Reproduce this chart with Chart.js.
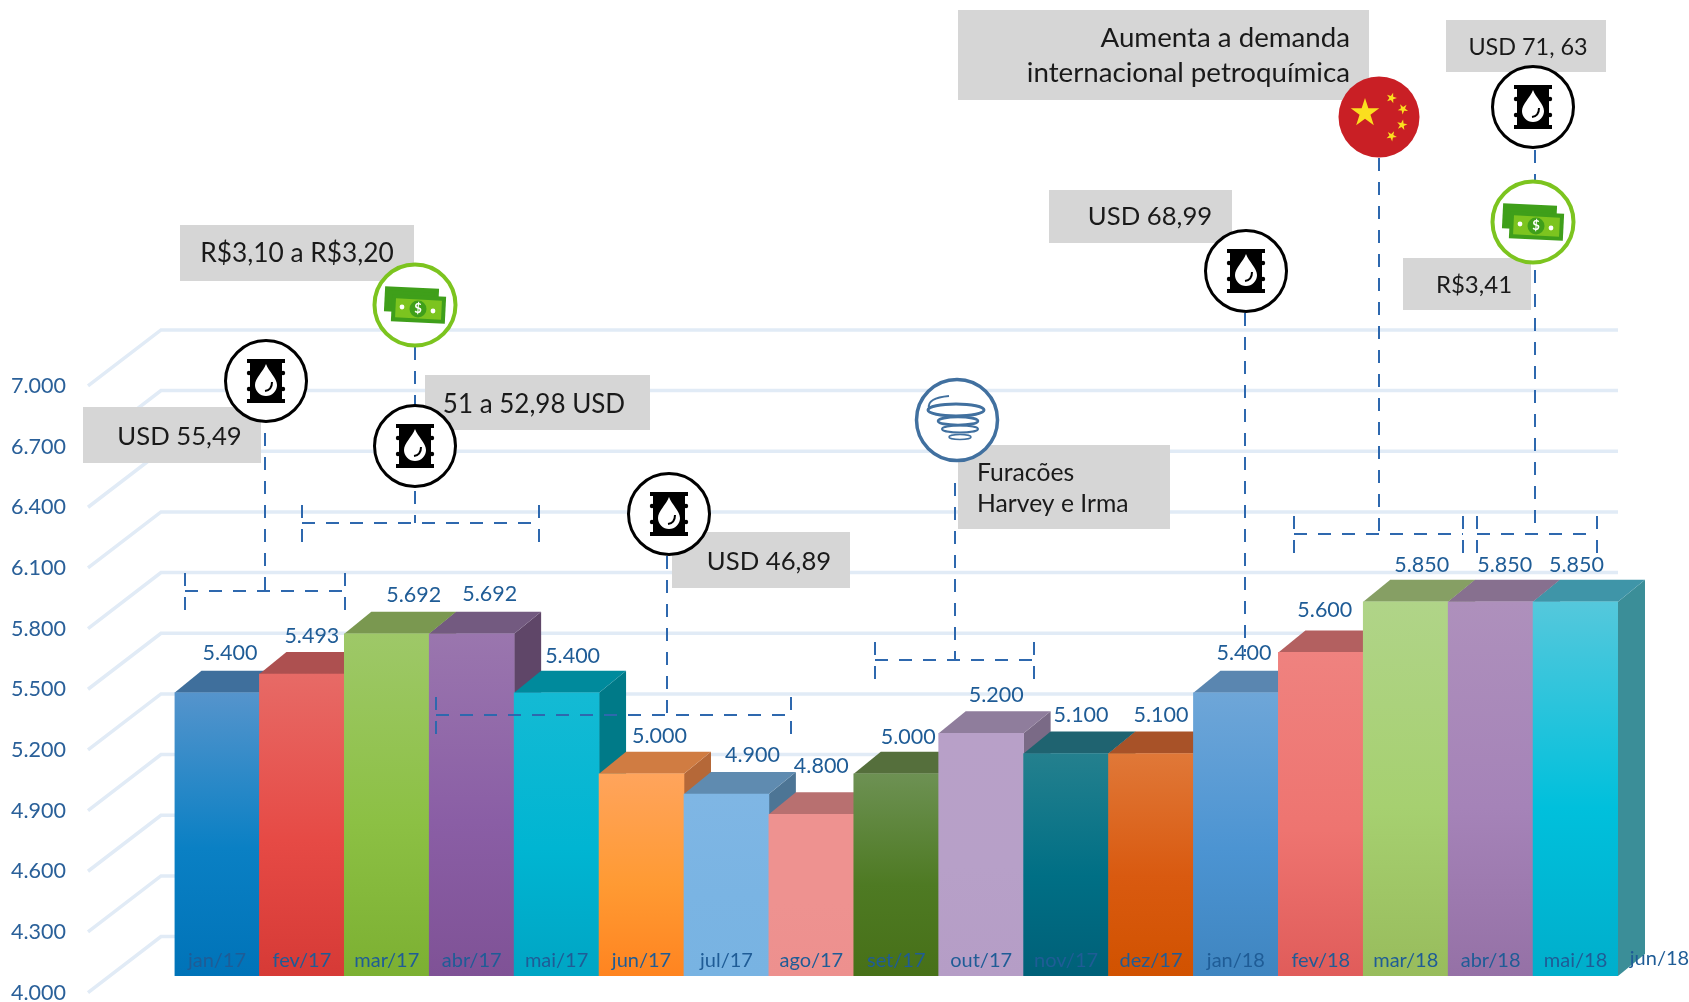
<!DOCTYPE html>
<html>
<head>
<meta charset="utf-8">
<script src="https://cdn.jsdelivr.net/npm/chart.js@4"></script>
<style>
    html, body { margin: 0; padding: 0; background: #fff; overflow: hidden; }
    #wrap { position: relative; width: 1689px; height: 1002px; }
</style>
</head>
<body>
<div id="wrap"><canvas id="precoChart"></canvas></div>
<script>
// Dados
const categories = ['jan/17', 'fev/17', 'mar/17', 'abr/17', 'mai/17', 'jun/17', 'jul/17', 'ago/17', 'set/17',
    'out/17', 'nov/17', 'dez/17', 'jan/18', 'fev/18', 'mar/18', 'abr/18', 'mai/18', 'jun/18'];
const precos = [5400, 5493, 5692, 5692, 5400, 5000, 4900, 4800, 5000, 5200, 5100, 5100, 5400, 5600, 5850, 5850, 5850];
const yTicks = [4000, 4300, 4600, 4900, 5200, 5500, 5800, 6100, 6400, 6700, 7000];

// Cores de cada barra: topo, meio e base da frente, tampa, lateral
const coresFrente = [
    ['#5594cc', '#0a80c4', '#0073b8'], ['#e76a66', '#e64a45', '#d63a36'], ['#9ec868', '#8cc044', '#7cb032'],
    ['#9a76ae', '#8a5ea5', '#7f5296'], ['#14bad4', '#00b5d2', '#00a5c4'], ['#ffa45c', '#ff9a33', '#ff8420'],
    ['#7fb6e4', '#7ab4e3', '#78b3e2'], ['#ee9290', '#ee9290', '#ed908e'], ['#6d9153', '#4e7a23', '#477018'],
    ['#b8a0c8', '#b7a0c8', '#b59dc6'], ['#24808e', '#006f85', '#006078'], ['#e07838', '#d95a10', '#d15200'],
    ['#6ea6d8', '#4c94d2', '#3f85c0'], ['#ef827f', '#ee7470', '#e05c5a'], ['#b0d488', '#a6d070', '#98bc5c'],
    ['#ae90bc', '#a583b8', '#9571a6'], ['#55c8dc', '#00c0dc', '#00aecb']
];
const coresTampa = ['#3f6f9c', '#ad5050', '#7a9850', '#735a80', '#008a9c', '#d07c42', '#5f8bb0', '#b87070', '#556f3c',
    '#8f7d9c', '#1f6370', '#a85228', '#5a86b0', '#b36060', '#869f64', '#87708f', '#3f95a8'];
const coresLateral = ['#35608a', '#8f4040', '#67833f', '#5f4668', '#007a88', '#b56838', '#4d7595', '#9c5c5c', '#47602f',
    '#7a6a86', '#184f5a', '#8e4420', '#4b7296', '#985050', '#728a52', '#725e7a', '#3b8e98'];

// Deslocamento do rotulo de cada barra em relacao ao topo central da frente
const rotuloDx = [13, 10, 27, 18, 16, 18, 26, 10, 12, 15, 15, 10, 8, 4, 16, 14, 1];
const rotuloDy = [-40, -38, -39, -40, -37, -38, -39, -48, -37, -38, -38, -38, -40, -42, -37, -37, -37];

// Profundidade das barras e da parede do fundo
const barraDx = 27, barraDy = 22;
const paredeX = [88, 161], paredeFrenteDy = 16.6, paredeFundoDy = -39.4;

// Anotacoes em pixels da pagina
const caixas = [
    { x: 958, y: 10, w: 411, h: 90 }, { x: 1446, y: 20, w: 160, h: 52 }, { x: 1403, y: 258, w: 128, h: 52 },
    { x: 1049, y: 190, w: 183, h: 53 }, { x: 180, y: 225, w: 234, h: 56 }, { x: 425, y: 375, w: 225, h: 55 },
    { x: 83, y: 407, w: 178, h: 56 }, { x: 672, y: 532, w: 178, h: 56 }, { x: 958, y: 445, w: 212, h: 84 }
];
const textos = [
    { t: 'Aumenta a demanda', x: 1350, y: 38, align: 'right', size: 27.7 },
    { t: 'internacional petroquímica', x: 1350, y: 73, align: 'right', size: 27.7 },
    { t: 'USD 71, 63', x: 1528, y: 47, size: 23.4 }, { t: 'R$3,41', x: 1474, y: 285, size: 24 },
    { t: 'USD 68,99', x: 1150, y: 217, size: 25.7 }, { t: 'R$3,10 a R$3,20', x: 297, y: 254, size: 26.3 },
    { t: '51 a 52,98 USD', x: 534, y: 405, size: 26 }, { t: 'USD 55,49', x: 179.5, y: 437, size: 25.7 },
    { t: 'USD 46,89', x: 769, y: 562, size: 25.7 },
    { t: 'Furacões', x: 977, y: 473, align: 'left', size: 24.7 },
    { t: 'Harvey e Irma', x: 977, y: 504, align: 'left', size: 24.7 }
];
// Colchetes tracejados: guia vertical (x, y1 ate y), barra horizontal (x1 a x2 em y)
const colchetes = [
    { x: 265, y1: 433, y: 591, x1: 185, x2: 345 },
    { x: 415, y1: 347, y: 523, x1: 302, x2: 539 },
    { x: 667, y1: 556, y: 715, x1: 436, x2: 791 },
    { x: 955, y1: 483, y: 660, x1: 875, x2: 1034 },
    { x: 1379, y1: 158, y: 534, x1: 1294, x2: 1463 },
    { x: 1535, y1: 150, y: 534, x1: 1477, x2: 1597 }
];
const guiaSolta = { x: 1245, y1: 313, y2: 652 };
const barris = [[266, 381], [415, 446], [669, 514], [1246, 271], [1533, 107]];
const dinheiro = [[415, 305], [1533, 222]];

function estrela(ctx, cx, cy, r, rot) {
    ctx.beginPath();
    for (let i = 0; i < 10; i++) {
        const a = rot - Math.PI / 2 + i * Math.PI / 5;
        const rr = i % 2 ? r * 0.382 : r;
        ctx.lineTo(cx + rr * Math.cos(a), cy + rr * Math.sin(a));
    }
    ctx.closePath();
    ctx.fill();
}

function circulo(ctx, cx, cy, r, fill, stroke, lw) {
    ctx.beginPath();
    ctx.arc(cx, cy, r, 0, Math.PI * 2);
    ctx.fillStyle = fill;
    ctx.fill();
    if (stroke) {
        ctx.strokeStyle = stroke;
        ctx.lineWidth = lw;
        ctx.stroke();
    }
}

function iconeBarril(ctx, cx, cy) {
    circulo(ctx, cx, cy, 40.5, '#fff', '#000', 3);
    ctx.fillStyle = '#000';
    ctx.fillRect(cx - 16, cy - 22, 32, 44);
    ctx.fillRect(cx - 19, cy - 22, 38, 4);
    ctx.fillRect(cx - 19, cy + 18, 38, 4);
    [-1, 1].forEach(function (s) {
        circulo(ctx, cx + s * 17, cy - 8, 2.2, '#000');
        circulo(ctx, cx + s * 17, cy + 8, 2.2, '#000');
    });
    // gota
    ctx.fillStyle = '#fff';
    ctx.beginPath();
    ctx.moveTo(cx, cy - 17);
    ctx.bezierCurveTo(cx + 3, cy - 9, cx + 11, cy - 3, cx + 11, cy + 4);
    ctx.arc(cx, cy + 4, 11, 0, Math.PI);
    ctx.bezierCurveTo(cx - 11, cy - 3, cx - 3, cy - 9, cx, cy - 17);
    ctx.fill();
    ctx.strokeStyle = '#000';
    ctx.lineWidth = 2;
    ctx.beginPath();
    ctx.moveTo(cx + 6, cy + 1);
    ctx.quadraticCurveTo(cx + 6, cy + 9, cx - 1, cy + 10);
    ctx.stroke();
}

function nota(ctx, cx, cy, w, h, rot, cor, borda) {
    ctx.save();
    ctx.translate(cx, cy);
    ctx.rotate(rot);
    ctx.fillStyle = borda;
    ctx.fillRect(-w / 2, -h / 2, w, h);
    ctx.fillStyle = cor;
    ctx.fillRect(-w / 2 + 4, -h / 2 + 4, w - 8, h - 8);
    ctx.restore();
}

function iconeDinheiro(ctx, cx, cy) {
    circulo(ctx, cx, cy, 40.5, '#fff', '#7cc41f', 4);
    nota(ctx, cx - 3.5, cy - 5, 54, 25, 0.05, '#3f9f1a', '#3f9f1a');
    nota(ctx, cx + 3.5, cy + 4, 54, 27, 0.05, '#7cc41f', '#3f9f1a');
    circulo(ctx, cx + 3, cy + 4, 8.5, '#3f9f1a');
    circulo(ctx, cx - 13, cy + 2, 2.4, '#fff');
    circulo(ctx, cx + 18, cy + 6, 2.4, '#fff');
    ctx.fillStyle = '#fff';
    ctx.font = 'bold 13px Lato';
    ctx.textAlign = 'center';
    ctx.textBaseline = 'middle';
    ctx.fillText('$', cx + 3, cy + 4);
}

function iconeChina(ctx, cx, cy) {
    circulo(ctx, cx, cy, 40.5, '#c91f25');
    ctx.fillStyle = '#fadf1f';
    estrela(ctx, cx - 14, cy - 4, 15, 0);
    estrela(ctx, cx + 12.5, cy - 19, 5.5, 0.3);
    estrela(ctx, cx + 24, cy - 8, 5.5, 0.7);
    estrela(ctx, cx + 23, cy + 8, 5.5, 0.2);
    estrela(ctx, cx + 12.5, cy + 19, 5.5, 0.5);
}

function iconeFuracao(ctx, cx, cy) {
    circulo(ctx, cx, cy, 40.5, '#fff', '#41709f', 3.5);
    ctx.strokeStyle = '#41709f';
    [[-1, -10, 28, 6, 3], [1, 1, 20, 4, 2.5], [3, 9, 18, 3.5, 2], [3, 17, 11, 2.5, 1.6]].forEach(function (e) {
        ctx.lineWidth = e[4];
        ctx.beginPath();
        ctx.ellipse(cx + e[0], cy + e[1], e[2], e[3], 0, 0, Math.PI * 2);
        ctx.stroke();
    });
    ctx.lineWidth = 2;
    ctx.beginPath();
    ctx.moveTo(cx - 8, cy - 24);
    ctx.quadraticCurveTo(cx - 30, cy - 22, cx - 28, cy - 12);
    ctx.stroke();
}

// Parede do fundo: linhas de grade em perspectiva, antes das barras
const paredePlugin = {
    id: 'parede',
    beforeDatasetsDraw(chart) {
        const { ctx, chartArea, scales: { y } } = chart;
        ctx.save();
        ctx.strokeStyle = '#e1ebf6';
        ctx.lineWidth = 3.5;
        yTicks.forEach(function (v) {
            const py = y.getPixelForValue(v);
            ctx.beginPath();
            ctx.moveTo(paredeX[0], py + paredeFrenteDy);
            ctx.lineTo(paredeX[1], py + paredeFundoDy);
            ctx.lineTo(chartArea.right, py + paredeFundoDy);
            ctx.stroke();
        });
        ctx.restore();
    }
};

// Tampa e lateral de cada barra, da esquerda para a direita
const barras3dPlugin = {
    id: 'barras3d',
    beforeDatasetsDraw(chart) {
        const { ctx } = chart;
        const meta = chart.getDatasetMeta(0);
        ctx.save();
        meta.data.forEach(function (bar, i) {
            const x0 = bar.x - bar.width / 2, x1 = bar.x + bar.width / 2;
            ctx.fillStyle = coresLateral[i];
            ctx.beginPath();
            ctx.moveTo(x1, bar.y);
            ctx.lineTo(x1 + barraDx, bar.y - barraDy);
            ctx.lineTo(x1 + barraDx, bar.base - barraDy);
            ctx.lineTo(x1, bar.base);
            ctx.closePath();
            ctx.fill();
            ctx.fillStyle = coresTampa[i];
            ctx.beginPath();
            ctx.moveTo(x0, bar.y);
            ctx.lineTo(x0 + barraDx, bar.y - barraDy);
            ctx.lineTo(x1 + barraDx, bar.y - barraDy);
            ctx.lineTo(x1, bar.y);
            ctx.closePath();
            ctx.fill();
        });
        ctx.restore();
    }
};

// Rotulos de valor, jun/18 fora das barras e anotacoes por cima de tudo
const anotacoesPlugin = {
    id: 'anotacoes',
    afterDraw(chart) {
        const { ctx, scales: { x } } = chart;
        const meta = chart.getDatasetMeta(0);
        ctx.save();

        ctx.fillStyle = '#d6d6d6';
        caixas.forEach(function (c) { ctx.fillRect(c.x, c.y, c.w, c.h); });

        ctx.strokeStyle = '#2e68ae';
        ctx.lineWidth = 2;
        ctx.setLineDash([13, 11]);
        colchetes.forEach(function (c) {
            ctx.beginPath();
            ctx.moveTo(c.x, c.y1);
            ctx.lineTo(c.x, c.y);
            ctx.moveTo(c.x1, c.y);
            ctx.lineTo(c.x2, c.y);
            ctx.moveTo(c.x1, c.y - 18);
            ctx.lineTo(c.x1, c.y + 22);
            ctx.moveTo(c.x2, c.y - 18);
            ctx.lineTo(c.x2, c.y + 22);
            ctx.stroke();
        });
        ctx.beginPath();
        ctx.moveTo(guiaSolta.x, guiaSolta.y1);
        ctx.lineTo(guiaSolta.x, guiaSolta.y2);
        ctx.stroke();
        ctx.setLineDash([]);

        ctx.fillStyle = '#1f5c96';
        ctx.font = '21.5px Lato';
        ctx.textAlign = 'center';
        ctx.textBaseline = 'middle';
        meta.data.forEach(function (bar, i) {
            const txt = precos[i].toLocaleString('pt-BR');
            ctx.fillText(txt, bar.x + rotuloDx[i], bar.y + rotuloDy[i]);
        });
        ctx.font = '20px Lato';
        ctx.fillText(categories[17], x.getPixelForValue(17) - 1, 959);

        barris.forEach(function (p) { iconeBarril(ctx, p[0], p[1]); });
        dinheiro.forEach(function (p) { iconeDinheiro(ctx, p[0], p[1]); });
        iconeChina(ctx, 1379, 117);
        iconeFuracao(ctx, 957, 420);

        ctx.textBaseline = 'middle';
        ctx.fillStyle = '#1a1a1a';
        textos.forEach(function (t) {
            ctx.font = t.size + 'px Lato';
            ctx.textAlign = t.align || 'center';
            ctx.fillText(t.t, t.x, t.y);
        });
        ctx.restore();
    }
};

document.addEventListener('DOMContentLoaded', function () {
    const ctx = document.getElementById('precoChart');

    new Chart(ctx, {
        type: 'bar',
        data: {
            labels: categories,
            datasets: [{
                label: 'Preço',
                data: precos,
                base: 4000,
                barPercentage: 1,
                categoryPercentage: 1,
                borderWidth: 0,
                backgroundColor: function (context) {
                    const cores = coresFrente[context.dataIndex];
                    const chart = context.chart;
                    if (!chart.chartArea || !cores) return '#888';
                    const topo = chart.scales.y.getPixelForValue(precos[context.dataIndex]);
                    const g = chart.ctx.createLinearGradient(0, topo, 0, chart.chartArea.bottom);
                    g.addColorStop(0, cores[0]);
                    g.addColorStop(0.55, cores[1]);
                    g.addColorStop(1, cores[2]);
                    return g;
                }
            }]
        },
        options: {
            responsive: true,
            maintainAspectRatio: false,
            animation: false,
            layout: { padding: { top: 369.3, right: 71, left: 11 } },
            plugins: {
                legend: { display: false },
                tooltip: { enabled: false }
            },
            scales: {
                x: {
                    max: categories[16],
                    grid: { display: false },
                    border: { display: false },
                    afterFit: function (scale) { scale.height = 26; },
                    ticks: {
                        z: 1,
                        mirror: true,
                        padding: 3,
                        autoSkip: false,
                        maxRotation: 0,
                        color: '#1f5c96',
                        font: { family: 'Lato', size: 20 }
                    }
                },
                y: {
                    min: 4000,
                    max: 7000,
                    grid: { display: false, drawTicks: false },
                    border: { display: false },
                    afterFit: function (scale) { scale.width = 163.5; },
                    afterBuildTicks: function (scale) {
                        scale.ticks = yTicks.map(function (v) { return { value: v }; });
                    },
                    ticks: {
                        crossAlign: 'far',
                        padding: 0,
                        labelOffset: paredeFrenteDy,
                        color: '#2a6099',
                        font: { family: 'Lato', size: 21.5 },
                        callback: function (v) { return v.toLocaleString('pt-BR'); }
                    }
                }
            }
        },
        plugins: [paredePlugin, barras3dPlugin, anotacoesPlugin]
    });
});
</script>
</body>
</html>
